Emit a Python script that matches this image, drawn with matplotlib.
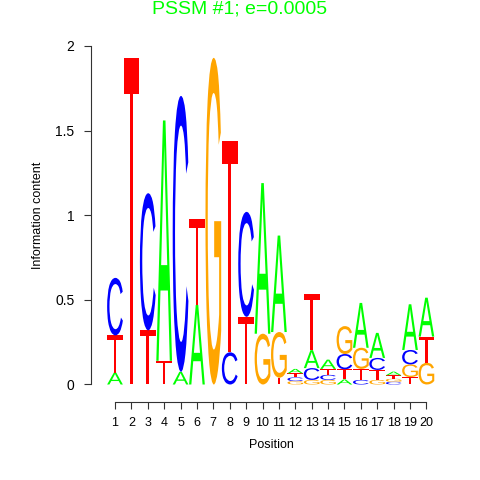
"""
Sequence logo for PSSM #1.
"""

import matplotlib
matplotlib.use('Agg')
import matplotlib.pyplot as plt
from matplotlib.textpath import TextPath
from matplotlib.patches import PathPatch
from matplotlib.font_manager import FontProperties
from matplotlib.transforms import Affine2D

positions = list(range(1, 21))
height_A = [0.07, 0, 0, 1.42, 0.075, 0.47, 0, 0, 0, 0.89,
	0.57, 0.026, 0.106, 0.055, 0.03, 0.265, 0.148, 0.022, 0.27, 0.23]
height_C = [0.34, 0, 0.81, 0, 1.63, 0, 0, 0.19, 0.62, 0,
	0, 0.022, 0.07, 0.03, 0.09, 0.027, 0.071, 0.016, 0.085, 0]
height_G = [0, 0, 0, 0, 0, 0, 1.93, 0, 0, 0.30,
	0.27, 0.02, 0.027, 0.027, 0.165, 0.125, 0.027, 0.018, 0.075, 0.128]
height_T = [0.22, 1.93, 0.32, 0.14, 0, 0.51, 0, 1.25, 0.40, 0,
	0.04, 0.024, 0.33, 0.035, 0.06, 0.065, 0.059, 0.02, 0.044, 0.155]

colors = {'A': '#00FF00', 'C': '#0000FF', 'G': '#FFA500', 'T': '#FF0000'}
fp = FontProperties(family='Liberation Sans')


def draw_letter(ax, ch, x, y, w, h):
	"""Stretch a glyph to fill the box [x-w/2, x+w/2] x [y, y+h]"""
	tp = TextPath((0, 0), ch, size=1, prop=fp)
	bb = tp.get_extents()
	tr = Affine2D().translate(-bb.x0, -bb.y0).scale(w / bb.width, h / bb.height).translate(x - w / 2, y)
	ax.add_patch(PathPatch(tr.transform_path(tp), facecolor=colors[ch], edgecolor='none'))


if __name__ == "__main__":
	fig = plt.figure(figsize=(4.8, 4.8), dpi=100)
	ax = fig.add_axes([91 / 480, 78 / 480, 349 / 480, 372 / 480])
	ax.set_xlim(-0.464, 20.83)
	ax.set_ylim(-0.1034, 2.0945)

	for i, p in enumerate(positions):
		col = [('A', height_A[i]), ('C', height_C[i]), ('G', height_G[i]), ('T', height_T[i])]
		col.sort(key=lambda t: t[1])
		y = 0
		for ch, h in col:
			if h > 0:
				draw_letter(ax, ch, p, y, 0.96, h)
				y += h

	for s in ['top', 'right']:
		ax.spines[s].set_visible(False)
	ax.spines['left'].set_bounds(0, 2)
	ax.spines['bottom'].set_bounds(1, 20)
	ax.spines['left'].set_color('#333333')
	ax.spines['bottom'].set_color('#333333')
	ax.set_xticks(positions)
	ax.set_xticklabels([str(p) for p in positions], fontproperties=fp, fontsize=9)
	ax.set_yticks([0, 0.5, 1, 1.5, 2])
	ax.set_yticklabels(['0', '0.5', '1', '1.5', '2'], fontproperties=fp, fontsize=10)
	ax.tick_params(length=5, color='#333333', pad=6)
	ax.tick_params(axis='y', pad=7)

	fig.text(0.5, 0.981, 'PSSM #1; e=0.0005', color='#00FF00', ha='center', va='center',
		fontproperties=fp, fontsize=14)
	fig.text(271 / 480, 1 - 445 / 480, 'Position', ha='center', va='center', fontproperties=fp, fontsize=9)
	fig.text(38 / 480, 1 - 215 / 480, 'Information content', ha='center', va='center',
		rotation=90, fontproperties=fp, fontsize=9)

	fig.savefig('out.png', dpi=100)
